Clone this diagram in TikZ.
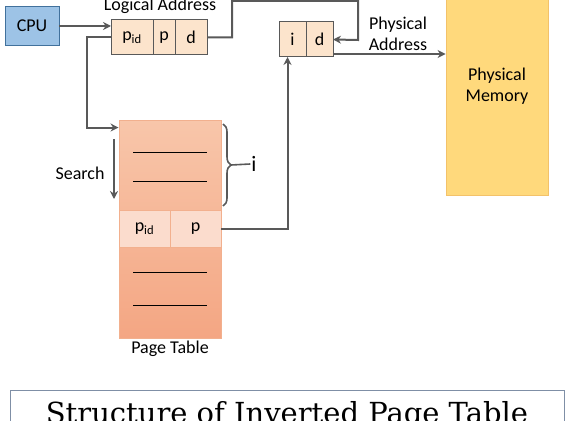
\documentclass[tikz,border=0pt]{standalone}
\usepackage{fontspec}
\setmainfont{Carlito}
\newfontfamily\titlefont{DejaVu Serif}
\usetikzlibrary{arrows.meta,positioning,decorations.pathreplacing}

\definecolor{cpublue}{HTML}{9DC3E6}
\definecolor{cpuedge}{HTML}{41719C}
\definecolor{cellfill}{HTML}{FCE4CC}
\definecolor{linegray}{HTML}{595959}
\definecolor{tabletop}{HTML}{F8C6AA}
\definecolor{tablebot}{HTML}{F4A683}
\definecolor{tableedge}{HTML}{F2B08E}
\definecolor{rowfill}{HTML}{FBDCCD}
\definecolor{memfill}{HTML}{FFD97C}
\definecolor{memedge}{HTML}{F3C26A}
\definecolor{titleedge}{HTML}{7F8FA6}

\begin{document}
\begin{tikzpicture}[
  x=1pt, y=-1pt,
  font=\fontsize{18}{21}\selectfont,
  cpubox/.style={draw=cpuedge,fill=cpublue,line width=0.9pt,minimum width=54pt,minimum height=39pt,inner sep=0pt},
  cell/.style={draw=linegray,fill=cellfill,line width=1pt,minimum height=35pt,inner sep=0pt,outer sep=0pt},
  rowcell/.style={draw=tableedge,fill=rowfill,line width=0.9pt,minimum width=51pt,minimum height=37pt,inner sep=0pt,outer sep=0pt},
  conn/.style={-{Stealth[length=8pt,width=8pt]},draw=linegray,line width=2pt},
  rule/.style={draw=black,line width=1pt},
  lbl/.style={inner sep=1pt,align=center}
]
\useasboundingbox (0,0) rectangle (575,420);

% processor and logical address
\node[cpubox] (cpu) at (32,26) {CPU};
\node[cell,minimum width=42pt] (pid) at (132,37.5) {p\textsubscript{id}};
\node[cell,minimum width=22pt,right=0pt of pid] (p) {p};
\node[cell,minimum width=32pt,right=0pt of p] (d) {d};
\node[lbl] (laddr) at (160,6) {Logical Address};

% physical address
\node[cell,minimum width=27pt] (ii) at (292.5,39.5) {i};
\node[cell,minimum width=27pt,right=0pt of ii] (dd) {d};
\node[lbl] (paddr) at (398,34) {Physical\\Address};

% physical memory
\node[draw=memedge,fill=memfill,line width=0.9pt,minimum width=102pt,minimum height=205pt] (mem) at (497,92.5) {};
\node[lbl] (memlbl) at (497,86) {Physical\\Memory};

% page table
\node[draw=tableedge,top color=tabletop,bottom color=tablebot,line width=0.9pt,minimum width=102pt,minimum height=218pt] (ptab) at (170,229) {};
\node[rowcell] (rpid) at (144.5,228.5) {p\textsubscript{id}};
\node[rowcell,right=0pt of rpid] (rp) {p};
\foreach \y in {152,181,272,305}
  \draw[rule] (133,\y) -- (207,\y);
\node[lbl] (ptlbl) at (170,349) {Page Table};

% search direction and index brace
\coordinate (stop) at (114,139);
\coordinate (sbot) at (114,199);
\draw[conn] (stop) -- (sbot);
\node[lbl] (search) at (80,173) {Search};
\draw[draw=linegray,line width=1.6pt,decorate,decoration={brace,amplitude=8pt}] (223,124) -- (223,206);
\node[lbl,font=\fontsize{22}{24}\selectfont] (ilbl) at (254,164) {i};
\coordinate (btip) at (231,165);
\draw[draw=linegray,line width=1.6pt] (btip) -- (ilbl.west);

% connectors
\draw[conn] (cpu.east) -- (pid.west |- cpu.east);
\draw[conn] (d.east) -| (232,1) -| (358,40) -- (dd.east);
\draw[conn] (pid.west) -- ++(-24,0) |- ([yshift=-8pt]ptab.north west);
\draw[conn] (rp.east) -| ([xshift=-5pt]ii.south);
\coordinate (pa) at ([yshift=3pt]dd.south east);
\draw[conn] (pa) -- (pa -| mem.west);

% caption
\draw[draw=titleedge,line width=0.9pt] (10,390) rectangle (564,440);
\node[anchor=base,font=\titlefont\fontsize{29}{33}\selectfont] (title) at (287,423) {Structure of Inverted Page Table};
\end{tikzpicture}
\end{document}
